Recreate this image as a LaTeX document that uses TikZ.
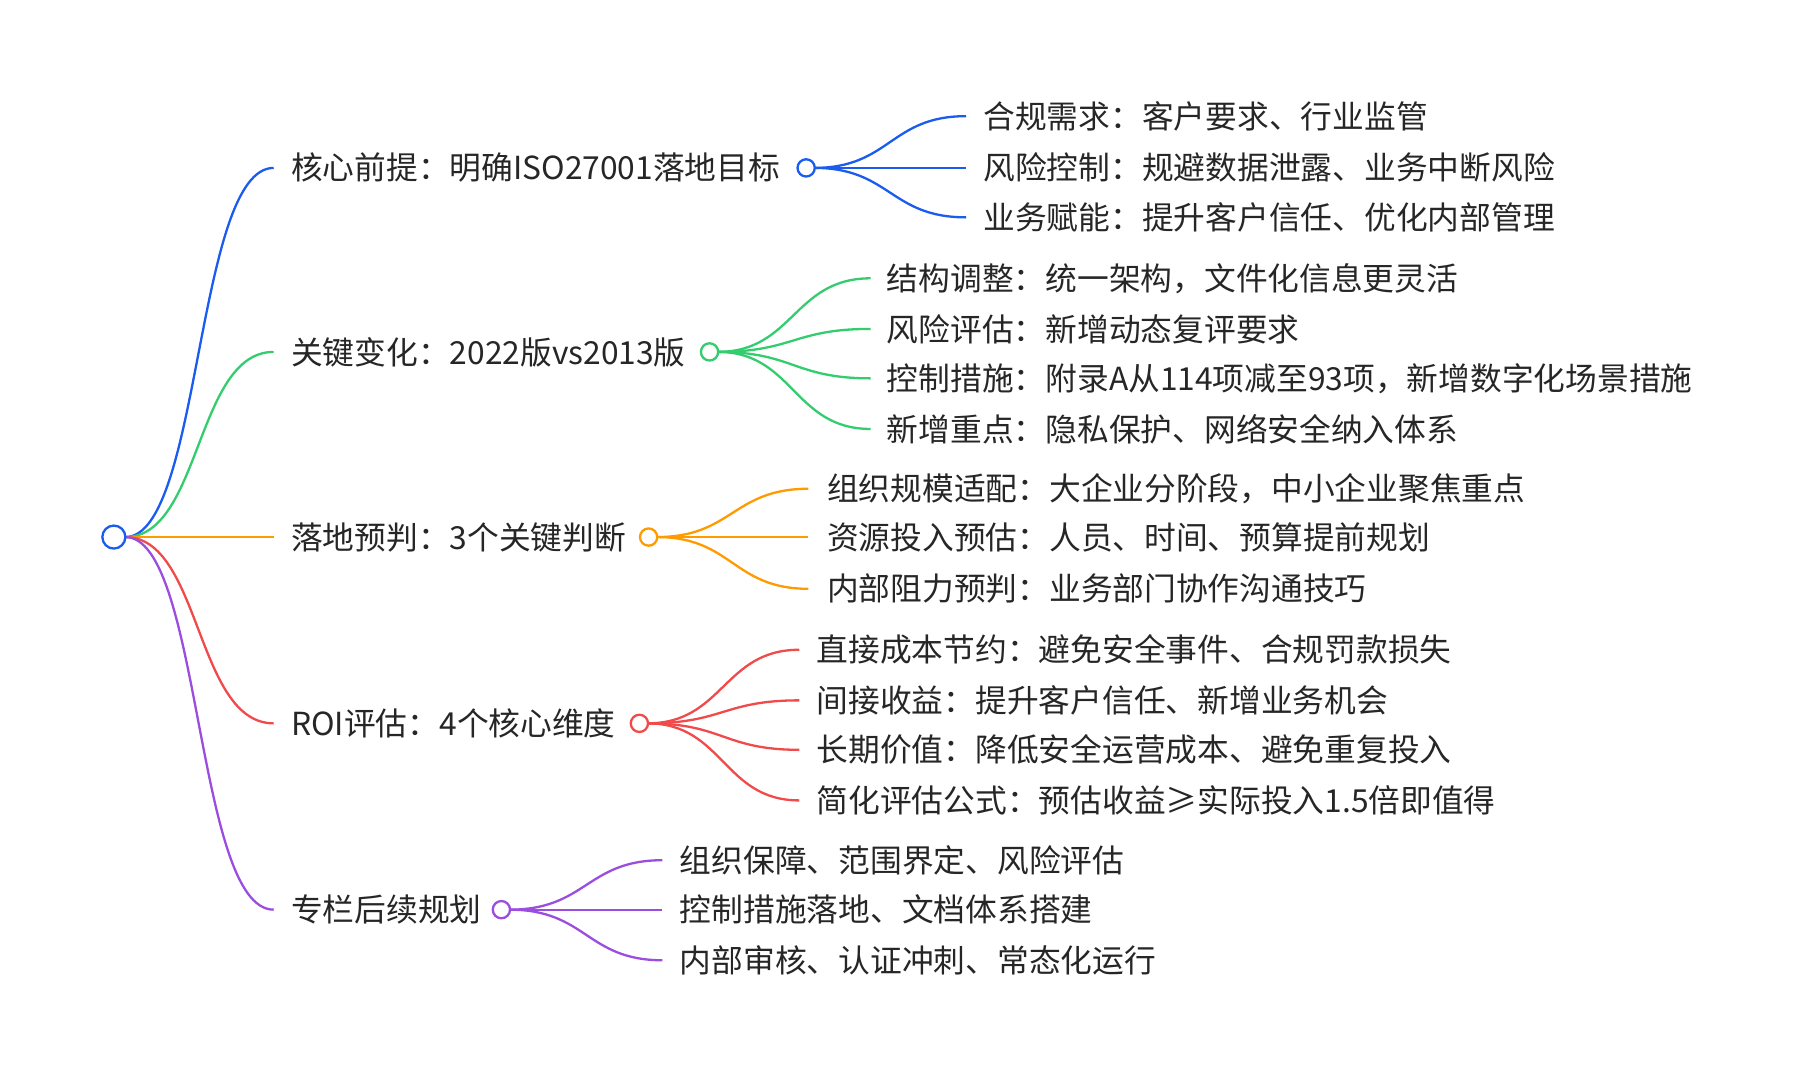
\documentclass[tikz,border=0pt]{standalone}
\usepackage{fontspec}
\setmainfont{Noto Sans CJK SC}
\begin{document}
\begin{tikzpicture}[x=1pt,y=-1pt,
  lbl/.style={anchor=west,inner sep=0pt,font=\fontsize{27.6}{30}\selectfont,text=black!85},
  dot/.style={circle,draw,line width=2pt,fill=white,inner sep=0pt,minimum size=15pt},
  conn/.style={line width=2pt}]
\useasboundingbox (0,0) rectangle (1560,932);
\definecolor{cb}{HTML}{1A5CF0}\definecolor{cg}{HTML}{33CC6E}
\definecolor{co}{HTML}{FF9A00}\definecolor{cr}{HTML}{F04A4A}\definecolor{cp}{HTML}{9B4DE0}
\coordinate (Ae) at (238,146);\coordinate (Be) at (238,306);\coordinate (Ce) at (238,467);
\coordinate (De) at (238,629);\coordinate (Ee) at (238,791);
\node[lbl] (A) at (253,146) {核心前提：明确ISO27001落地目标};
\node[lbl] (B) at (253,306) {关键变化：2022版vs2013版};
\node[lbl] (C) at (253,467) {落地预判：3个关键判断};
\node[lbl] (D) at (253,629) {ROI评估：4个核心维度};
\node[lbl] (E) at (253,791) {专栏后续规划};
\coordinate (R) at (109,467);
\draw[conn,cb] (R) .. controls (175,467) and (170,146) .. (Ae);
\draw[conn,cg] (R) .. controls (175,467) and (170,306) .. (Be);
\draw[conn,co] (R) -- (Ce);
\draw[conn,cr] (R) .. controls (175,467) and (170,629) .. (De);
\draw[conn,cp] (R) .. controls (175,467) and (170,791) .. (Ee);
\node[dot,draw=cb,minimum size=20pt] (root) at (99,467) {};
% blue
\coordinate (A1e) at (840,101);\coordinate (A2e) at (840,146);\coordinate (A3e) at (840,189);
\node[lbl] (A1) at (855,101) {合规需求：客户要求、行业监管};
\node[lbl] (A2) at (855,146) {风险控制：规避数据泄露、业务中断风险};
\node[lbl] (A3) at (855,189) {业务赋能：提升客户信任、优化内部管理};
\draw[conn,cb] (708,146) .. controls (774,146) and (774,101) .. (A1e);
\draw[conn,cb] (708,146) -- (A2e);
\draw[conn,cb] (708,146) .. controls (774,146) and (774,189) .. (A3e);
\node[dot,draw=cb] (Ac) at (701,146) {};
% green
\coordinate (B1e) at (757,242);\coordinate (B2e) at (757,286);\coordinate (B3e) at (757,329);\coordinate (B4e) at (757,373);
\node[lbl] (B1) at (771,242) {结构调整：统一架构，文件化信息更灵活};
\node[lbl] (B2) at (771,286) {风险评估：新增动态复评要求};
\node[lbl] (B3) at (771,329) {控制措施：附录A从114项减至93项，新增数字化场景措施};
\node[lbl] (B4) at (771,373) {新增重点：隐私保护、网络安全纳入体系};
\foreach \t in {B1e,B2e,B3e,B4e}{\draw[conn,cg] (624,306) .. controls (690,306) and (690,306 |- \t) .. (\t);}
\node[dot,draw=cg] (Bc) at (617,306) {};
% orange
\coordinate (C1e) at (703,425);\coordinate (C2e) at (703,467);\coordinate (C3e) at (703,512);
\node[lbl] (C1) at (719,425) {组织规模适配：大企业分阶段，中小企业聚焦重点};
\node[lbl] (C2) at (719,467) {资源投入预估：人员、时间、预算提前规划};
\node[lbl] (C3) at (719,512) {内部阻力预判：业务部门协作沟通技巧};
\foreach \t in {C1e,C2e,C3e}{\draw[conn,co] (571,467) .. controls (637,467) and (637,467 |- \t) .. (\t);}
\node[dot,draw=co] (Cc) at (564,467) {};
% red
\coordinate (D1e) at (695,565);\coordinate (D2e) at (695,609);\coordinate (D3e) at (695,652);\coordinate (D4e) at (695,696);
\node[lbl] (D1) at (710,565) {直接成本节约：避免安全事件、合规罚款损失};
\node[lbl] (D2) at (710,609) {间接收益：提升客户信任、新增业务机会};
\node[lbl] (D3) at (710,652) {长期价值：降低安全运营成本、避免重复投入};
\node[lbl] (D4) at (710,696) {简化评估公式：预估收益≥实际投入1.5倍即值得};
\foreach \t in {D1e,D2e,D3e,D4e}{\draw[conn,cr] (563,629) .. controls (629,629) and (629,629 |- \t) .. (\t);}
\node[dot,draw=cr] (Dc) at (556,629) {};
% purple
\coordinate (E1e) at (576,748);\coordinate (E2e) at (576,791);\coordinate (E3e) at (576,835);
\node[lbl] (E1) at (591,748) {组织保障、范围界定、风险评估};
\node[lbl] (E2) at (591,791) {控制措施落地、文档体系搭建};
\node[lbl] (E3) at (591,835) {内部审核、认证冲刺、常态化运行};
\foreach \t in {E1e,E2e,E3e}{\draw[conn,cp] (443,791) .. controls (510,791) and (510,791 |- \t) .. (\t);}
\node[dot,draw=cp] (Ec) at (436,791) {};
\end{tikzpicture}
\end{document}
